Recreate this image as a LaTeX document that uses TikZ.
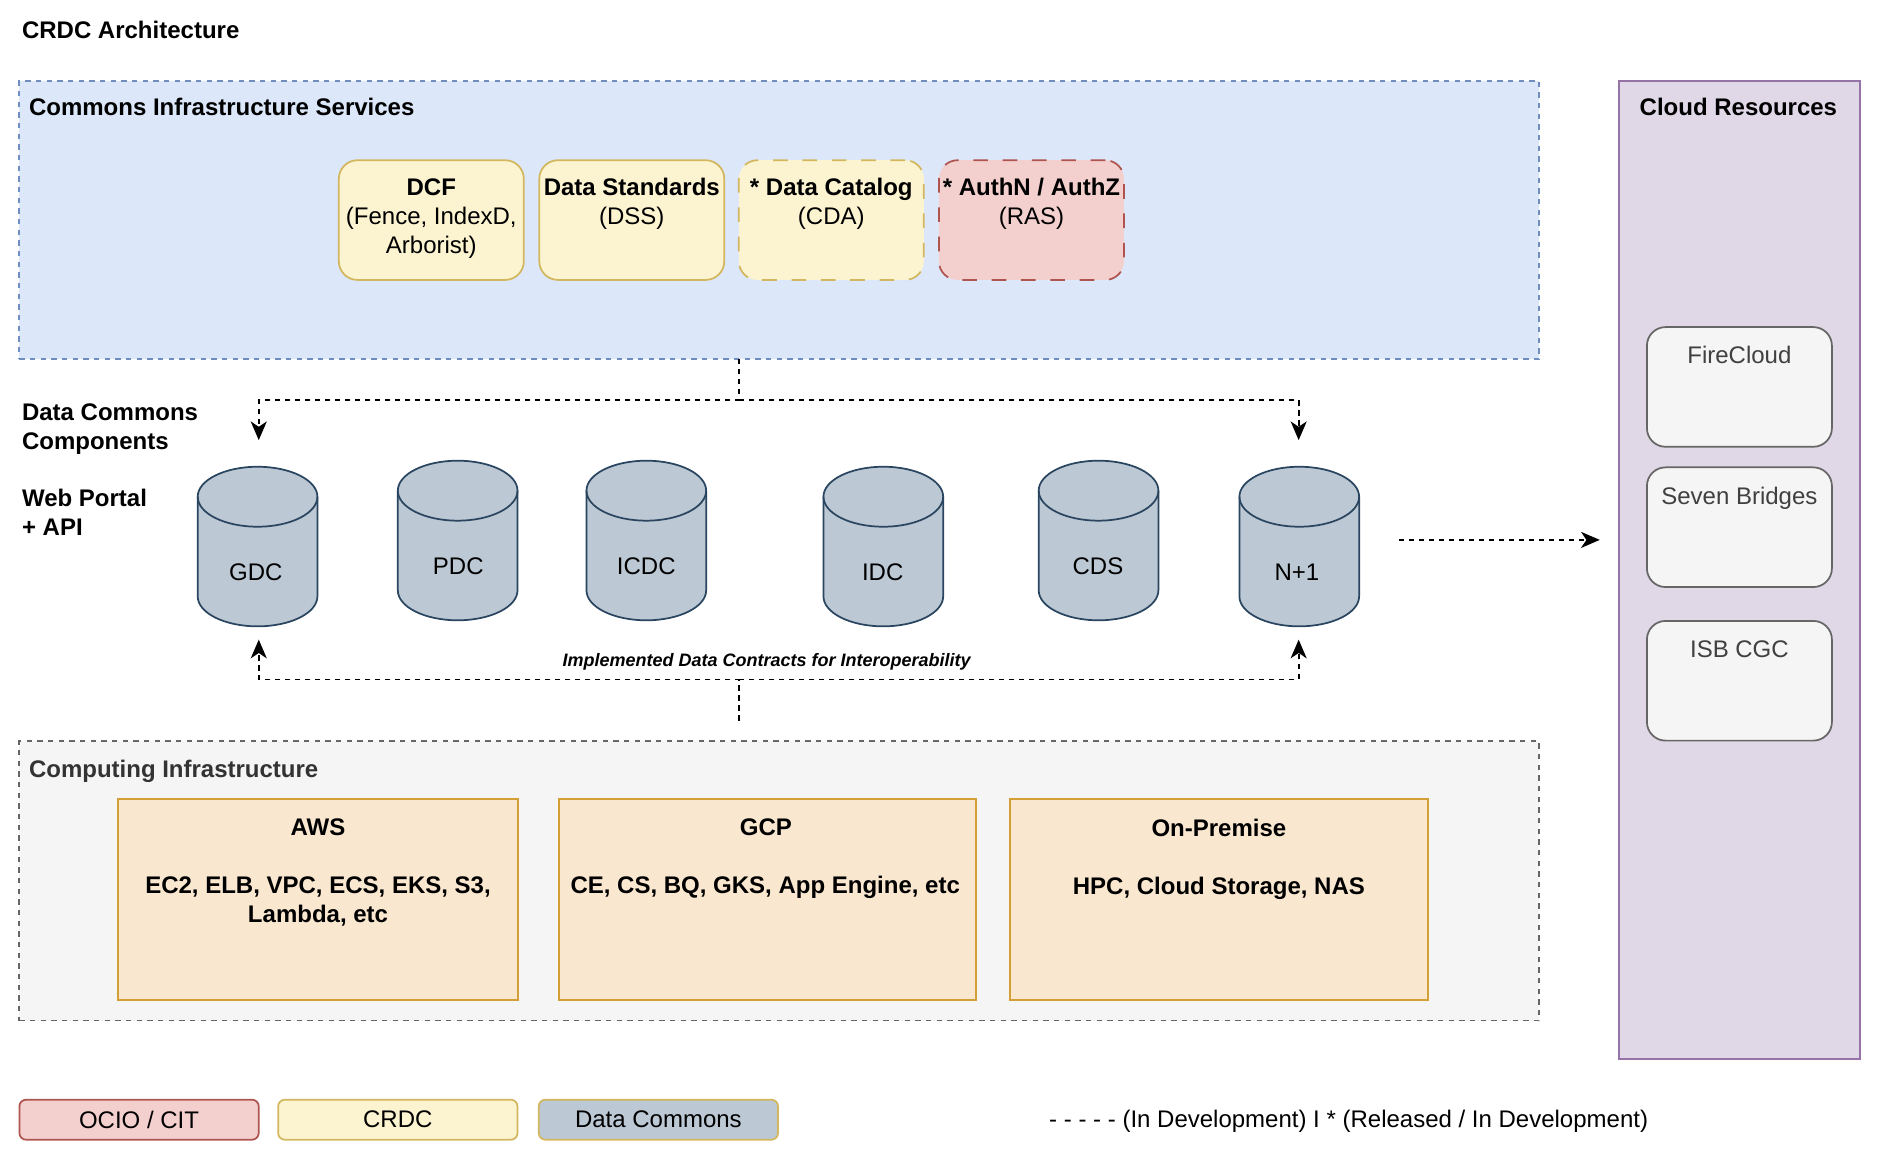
\documentclass[tikz,border=0pt]{standalone}
\usepackage{fontspec}
\setmainfont{Liberation Sans}
\usetikzlibrary{arrows.meta}
\definecolor{blueF}{HTML}{DCE8FA}\definecolor{blueS}{HTML}{6F8DBF}
\definecolor{yelF}{HTML}{FCF3D0}\definecolor{yelS}{HTML}{D3B75E}
\definecolor{redF}{HTML}{F3D0CE}\definecolor{redS}{HTML}{B0544F}
\definecolor{purF}{HTML}{E0D7E7}\definecolor{purS}{HTML}{9673A6}
\definecolor{gryF}{HTML}{F5F5F5}\definecolor{gryS}{HTML}{666666}
\definecolor{oraF}{HTML}{F9E7D0}\definecolor{oraS}{HTML}{D2A035}
\definecolor{cylF}{HTML}{BCC8D3}\definecolor{cylS}{HTML}{2A4560}
\newdimen\uu \uu=0.9069pt
\newcommand\basefont{\fontsize{18}{21.8}\selectfont}
% centred, top-aligned content: width, height, top pad, text
\newcommand\topc[4]{\parbox[c][#2\uu][t]{#1\uu}{\basefont\centering\vspace*{#3pt}#4}}
% left-aligned variant
\newcommand\topl[4]{\parbox[c][#2\uu][t]{#1\uu}{\basefont\raggedright\leftskip=8\uu\vspace*{#3pt}#4}}
\newcommand\cyl[6]{% name, centre x, top y, label x, label y, text
  \begin{scope}[shift={(#2,#3)}]
  \draw[cylbody] (-49.5,24.8) .. controls (-49.5,11.1) and (-27.3,0) .. (0,0)
    .. controls (27.3,0) and (49.5,11.1) .. (49.5,24.8) -- (49.5,107.2)
    .. controls (49.5,120.9) and (27.3,132) .. (0,132)
    .. controls (-27.3,132) and (-49.5,120.9) .. (-49.5,107.2) -- cycle;
  \draw[cylbody,fill=none] (-49.5,24.8) .. controls (-49.5,38.5) and (-27.3,49.6) .. (0,49.6)
    .. controls (27.3,49.6) and (49.5,38.5) .. (49.5,24.8);
  \end{scope}
  \node[plain] (#1) at (#4,#5) {#6};}
\tikzset{
  x=0.9069pt, y=-0.9069pt,
  frame/.style={inner sep=0pt, line width=1.3pt},
  round/.style={frame, rounded corners=14pt},
  thin dash/.style={dash pattern=on 4pt off 4pt},
  wide dash/.style={dash pattern=on 11pt off 11pt},
  svc/.style={round, draw=yelS, fill=yelF},
  cloudbox/.style={round, draw=gryS, fill=gryF, text=black!75},
  comp/.style={frame, draw=oraS, fill=oraF},
  legendbox/.style={frame, rounded corners=5pt, minimum width=179.5pt, minimum height=30pt, font=\basefont},
  plain/.style={inner sep=0pt, font=\basefont},
  heading/.style={plain, font=\basefont\bfseries, align=left, anchor=west},
  cylbody/.style={draw=cylS, fill=cylF, line width=1.3pt},
  flow/.style={draw=black, line width=1.4pt, dash pattern=on 4pt off 3.5pt},
  tip/.style={-{Stealth[length=14pt,width=12pt,inset=4pt]}},
}
\begin{document}
\begin{tikzpicture}
\useasboundingbox[fill=white] (0,0) rectangle (1568,959.3);

\node[heading] (title) at (18,24.5) {CRDC Architecture};

% containers
\node[frame, draw=blueS, fill=blueF, thin dash] (infra) at (644.5,182)
  {\topl{1257}{230}{13}{\textbf{Commons Infrastructure Services}}};
\node[frame, draw=gryS, fill=gryF, thin dash] (computing) at (644.5,728.5)
  {\topl{1257}{231}{14}{\textbf{\textcolor{black!80}{Computing Infrastructure}}}};
\node[frame, draw=purS, fill=purF] (cloud) at (1438.5,471.5)
  {\topc{199}{809}{13}{\hspace*{-1.5pt}\textbf{Cloud Resources}}};

% services
\node[svc] (dcf) at (356.7,182)
  {\topc{153}{99}{13.7}{\textbf{DCF}\\(Fence, IndexD,\\Arborist)}};
\node[svc] (dss) at (522.5,182)
  {\topc{153}{99}{13.7}{\textbf{Data Standards}\\(DSS)}};
\node[svc, wide dash] (cda) at (687.5,182)
  {\topc{153}{99}{13.7}{\textbf{* Data Catalog}\\(CDA)}};
\node[svc, draw=redS, fill=redF, wide dash] (ras) at (853,182)
  {\topc{153}{99}{13.7}{\textbf{* AuthN / AuthZ}\\(RAS)}};

% cloud resources
\node[cloudbox] (fire) at (1438.5,320) {\topc{153}{99}{14.5}{FireCloud}};
\node[cloudbox] (seven) at (1438.5,436) {\topc{153}{99}{14.5}{Seven Bridges}};
\node[cloudbox] (isb) at (1438.5,563) {\topc{153}{99}{14.5}{ISB CGC}};

% side labels
\node[heading] (dcclabel) at (18,355) {Data Commons\\Components};
\node[heading] (weblabel) at (18,424) {Web Portal\\+ API};

% data commons
\cyl{gdc}{213}{386}{211.5}{473}{GDC}
\cyl{pdc}{378.5}{381}{379}{468}{PDC}
\cyl{icdc}{534.5}{381}{534.5}{468}{ICDC}
\cyl{idc}{730.5}{386}{730}{473}{IDC}
\cyl{cds}{908.5}{381}{908}{468}{CDS}
\cyl{nplus}{1074.5}{386}{1072.5}{473}{N+1}

% connectors
\coordinate (topstart) at (611,297);
\coordinate (topfork) at (611,331);
\coordinate (topL) at (214,364);
\coordinate (topR) at (1074,364);
\draw[flow, tip] (topstart) -- (topfork) -| (topL);
\draw[flow, tip] (topfork) -| (topR);

\coordinate (botstart) at (611,596);
\coordinate (botfork) at (611,562);
\coordinate (botL) at (214,529);
\coordinate (botR) at (1074,529);
\draw[flow, tip] (botstart) -- (botfork) -| (botL);
\draw[flow, tip] (botfork) -| (botR);

\coordinate (rstart) at (1157,446.5);
\coordinate (rend) at (1323,446.5);
\draw[flow, tip] (rstart) -- (rend);

\node[inner sep=0pt] (contracts) at (634,547.5)
  {\fontsize{13.5}{16}\selectfont\bfseries\itshape Implemented Data Contracts for Interoperability};

% computing
\node[comp] (aws) at (263,744)
  {\topc{331}{166}{14.7}{\textbf{AWS}\\[21.8pt]\textbf{EC2, ELB, VPC, ECS, EKS, S3,}\\\textbf{Lambda, etc}}};
\node[comp] (gcp) at (634.5,744)
  {\topc{345}{166}{14.7}{\hspace*{-2pt}\textbf{GCP}\\[21.8pt]\hspace*{-3pt}\textbf{CE, CS, BQ, GKS, App Engine, etc}}};
\node[comp] (onprem) at (1008,744)
  {\topc{346}{166}{14.7}{\textbf{On-Premise}\\[21.8pt]\textbf{HPC, Cloud Storage, NAS}}};

% legend
\node[legendbox, draw=redS, fill=redF] (lg1) at (115,926) {OCIO / CIT};
\node[legendbox, draw=yelS, fill=yelF] (lg2) at (329,926) {CRDC};
\node[legendbox, draw=yelS, fill=cylF] (lg3) at (544.5,926) {Data Commons};
\node[plain, anchor=west] (lgtext) at (867.5,927.5) {- - - - - (In Development) I * (Released / In Development)};
\end{tikzpicture}
\end{document}
